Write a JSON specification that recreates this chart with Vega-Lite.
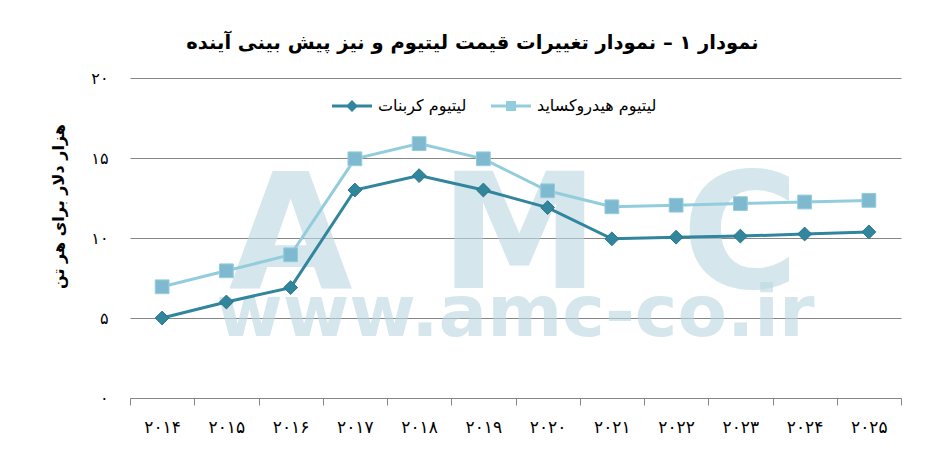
{
  "$schema": "https://vega.github.io/schema/vega-lite/v6.json",
  "autosize": "none",
  "width": 771,
  "height": 320,
  "padding": {"left": 130, "top": 78, "right": 46, "bottom": 76},
  "background": "white",
  "title": {
    "text": "نمودار ۱ – نمودار تغییرات قیمت لیتیوم و نیز پیش بینی آینده",
    "font": "DejaVu Sans",
    "fontSize": 19.5,
    "fontWeight": "bold",
    "color": "black",
    "anchor": "middle",
    "dx": -43,
    "offset": 17
  },
  "data": {
    "values": [
      {"year": "۲۰۱۴", "series": "لیتیوم کربنات", "price": 5.0},
      {"year": "۲۰۱۵", "series": "لیتیوم کربنات", "price": 6.0},
      {"year": "۲۰۱۶", "series": "لیتیوم کربنات", "price": 6.9},
      {"year": "۲۰۱۷", "series": "لیتیوم کربنات", "price": 13.0},
      {"year": "۲۰۱۸", "series": "لیتیوم کربنات", "price": 13.9},
      {"year": "۲۰۱۹", "series": "لیتیوم کربنات", "price": 13.0},
      {"year": "۲۰۲۰", "series": "لیتیوم کربنات", "price": 11.9},
      {"year": "۲۰۲۱", "series": "لیتیوم کربنات", "price": 9.95},
      {"year": "۲۰۲۲", "series": "لیتیوم کربنات", "price": 10.05},
      {"year": "۲۰۲۳", "series": "لیتیوم کربنات", "price": 10.12},
      {"year": "۲۰۲۴", "series": "لیتیوم کربنات", "price": 10.25},
      {"year": "۲۰۲۵", "series": "لیتیوم کربنات", "price": 10.38},
      {"year": "۲۰۱۴", "series": "لیتیوم هیدروکساید", "price": 6.95},
      {"year": "۲۰۱۵", "series": "لیتیوم هیدروکساید", "price": 7.95},
      {"year": "۲۰۱۶", "series": "لیتیوم هیدروکساید", "price": 8.95},
      {"year": "۲۰۱۷", "series": "لیتیوم هیدروکساید", "price": 14.95},
      {"year": "۲۰۱۸", "series": "لیتیوم هیدروکساید", "price": 15.9},
      {"year": "۲۰۱۹", "series": "لیتیوم هیدروکساید", "price": 14.95},
      {"year": "۲۰۲۰", "series": "لیتیوم هیدروکساید", "price": 12.95},
      {"year": "۲۰۲۱", "series": "لیتیوم هیدروکساید", "price": 11.95},
      {"year": "۲۰۲۲", "series": "لیتیوم هیدروکساید", "price": 12.05},
      {"year": "۲۰۲۳", "series": "لیتیوم هیدروکساید", "price": 12.15},
      {"year": "۲۰۲۴", "series": "لیتیوم هیدروکساید", "price": 12.25},
      {"year": "۲۰۲۵", "series": "لیتیوم هیدروکساید", "price": 12.35}
    ]
  },
  "encoding": {
    "x": {
      "field": "year",
      "type": "ordinal",
      "title": null,
      "scale": {
        "domain": ["۲۰۱۴", "۲۰۱۵", "۲۰۱۶", "۲۰۱۷", "۲۰۱۸", "۲۰۱۹", "۲۰۲۰", "۲۰۲۱", "۲۰۲۲", "۲۰۲۳", "۲۰۲۴", "۲۰۲۵"],
        "paddingInner": 0,
        "paddingOuter": 0
      },
      "axis": {
        "labelAngle": 0,
        "labelFont": "DejaVu Sans",
        "labelFontSize": 17,
        "labelColor": "black",
        "labelPadding": 14,
        "domainColor": "#868686",
        "tickColor": "#868686",
        "tickSize": 7,
        "tickBand": "extent",
        "grid": false
      }
    },
    "y": {
      "field": "price",
      "type": "quantitative",
      "scale": {"domain": [0, 20], "nice": false},
      "title": "هزار دلار برای هر تن",
      "axis": {
        "values": [0, 5, 10, 15, 20],
        "labelExpr": "['۰','','','','','۵','','','','','۱۰','','','','','۱۵','','','','','۲۰'][datum.value]",
        "labelFont": "DejaVu Sans",
        "labelFontSize": 16,
        "labelColor": "black",
        "labelPadding": 22,
        "ticks": false,
        "domain": false,
        "gridColor": "#868686",
        "gridWidth": 1,
        "titleFont": "DejaVu Sans",
        "titleFontSize": 16,
        "titleFontWeight": "bold",
        "titleColor": "black",
        "titleX": -72,
        "titleY": 128,
        "titleAlign": "center",
        "titleBaseline": "middle"
      }
    }
  },
  "layer": [
    {
      "transform": [{"filter": "datum.year === '۲۰۱۴' && datum.series === 'لیتیوم کربنات'"}],
      "mark": {"type": "text", "text": "A", "font": "DejaVu Sans", "fontWeight": "bold", "fontSize": 160, "baseline": "alphabetic", "align": "center", "color": "#BCD8E1", "opacity": 0.62},
      "encoding": {"x": {"datum": "۲۰۱۶"}, "y": {"datum": 6.9}}
    },
    {
      "transform": [{"filter": "datum.year === '۲۰۱۴' && datum.series === 'لیتیوم کربنات'"}],
      "mark": {"type": "text", "text": "M", "font": "DejaVu Sans", "fontWeight": "bold", "fontSize": 160, "baseline": "alphabetic", "align": "center", "dx": 36, "color": "#BCD8E1", "opacity": 0.62},
      "encoding": {"x": {"datum": "۲۰۱۹"}, "y": {"datum": 6.9}}
    },
    {
      "transform": [{"filter": "datum.year === '۲۰۱۴' && datum.series === 'لیتیوم کربنات'"}],
      "mark": {"type": "text", "text": "C", "font": "DejaVu Sans", "fontWeight": "bold", "fontSize": 160, "baseline": "alphabetic", "align": "center", "color": "#BCD8E1", "opacity": 0.62},
      "encoding": {"x": {"datum": "۲۰۲۳"}, "y": {"datum": 6.9}}
    },
    {
      "transform": [{"filter": "datum.year === '۲۰۱۴' && datum.series === 'لیتیوم کربنات'"}],
      "mark": {"type": "text", "text": "www.amc-co.ir", "font": "DejaVu Sans", "fontWeight": "bold", "fontSize": 72, "baseline": "alphabetic", "align": "center", "dx": 32, "color": "#BCD8E1", "opacity": 0.62},
      "encoding": {"x": {"datum": "۲۰۱۹"}, "y": {"datum": 3.9}}
    },
    {
      "mark": {"type": "line", "strokeWidth": 3},
      "encoding": {
        "color": {
          "field": "series",
          "type": "nominal",
          "scale": {"domain": ["لیتیوم کربنات", "لیتیوم هیدروکساید"], "range": ["#31859C", "#93CDDD"]},
          "legend": {
            "orient": "none",
            "legendX": 212,
            "legendY": 18,
            "direction": "horizontal",
            "title": null,
            "symbolSize": 400,
            "labelOffset": 16,
            "columnPadding": 24,
            "labelFont": "DejaVu Sans",
            "labelFontSize": 16,
            "labelColor": "black",
            "encode": {
              "symbols": {
                "update": {
                  "shape": {"signal": "datum.value === 'لیتیوم کربنات' ? 'M-2,-0.15H2V0.15H-2Z M0,-0.6L0.6,0L0,0.6L-0.6,0Z' : 'M-2,-0.15H2V0.15H-2Z M-0.5,-0.5H0.5V0.5H-0.5Z'"},
                  "fill": {"signal": "datum.value === 'لیتیوم کربنات' ? '#31859C' : '#93CDDD'"},
                  "strokeWidth": {"value": 0},
                  "opacity": {"value": 1}
                }
              }
            }
          }
        }
      }
    },
    {
      "transform": [{"filter": "datum.series === 'لیتیوم کربنات'"}],
      "mark": {"type": "point", "shape": "diamond", "size": 190, "filled": true, "opacity": 1, "fill": "#31859C", "stroke": "#2A7488", "strokeWidth": 1}
    },
    {
      "transform": [{"filter": "datum.series === 'لیتیوم هیدروکساید'"}],
      "mark": {"type": "point", "shape": "square", "size": 190, "filled": true, "opacity": 1, "fill": "#7FB9D0", "stroke": "#93CDDD", "strokeWidth": 1}
    }
  ],
  "config": {
    "view": {"stroke": null},
    "font": "DejaVu Sans"
  }
}
